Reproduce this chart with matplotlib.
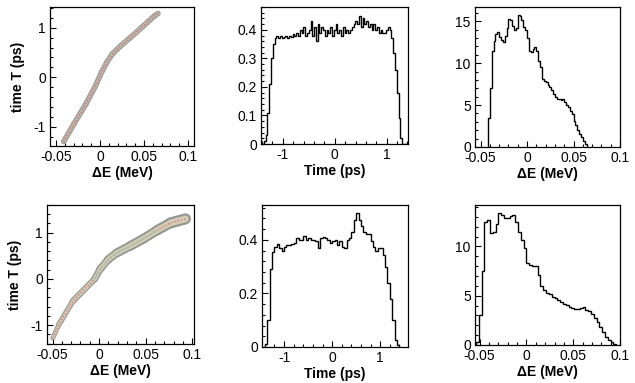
import numpy as np
import matplotlib
matplotlib.use("Agg")
import matplotlib.pyplot as plt
from matplotlib.ticker import MultipleLocator, FuncFormatter, AutoMinorLocator
from matplotlib.collections import LineCollection

plt.rcParams['font.family'] = ['Liberation Sans', 'DejaVu Sans']
plt.rcParams['axes.unicode_minus'] = False

# ---------------- data ----------------
# top row, phase-space band centre line (dE in MeV, T in ps)
top_band_de = [-0.0414, -0.0293, -0.0158, -0.0056, 0.0019, 0.0080, 0.0140, 0.0226, 0.0357, 0.0489, 0.062, 0.066]
top_band_t = [-1.30, -0.93, -0.53, -0.19, 0.11, 0.31, 0.47, 0.62, 0.82, 1.03, 1.24, 1.29]

# bottom row, phase-space band centre line
bot_band_de = [-0.0498, -0.0433, -0.0282, -0.0047, 0.0007, 0.0097, 0.0188, 0.0332, 0.0477, 0.0621, 0.0765, 0.0928]
bot_band_t = [-1.28, -0.99, -0.48, 0.0, 0.20, 0.42, 0.56, 0.71, 0.87, 1.05, 1.21, 1.30]

# top row, time histogram
top_time_lo, top_time_hi = -1.4, 1.4
top_time_vals = [
    0.0, 0.01, 0.03, 0.11, 0.21, 0.30, 0.35, 0.37, 0.38,
    0.37, 0.38, 0.37, 0.375, 0.38, 0.37, 0.38, 0.375, 0.385, 0.38, 0.39, 0.38,
    0.40, 0.39, 0.41, 0.38, 0.39, 0.40, 0.43, 0.38, 0.41, 0.36,
    0.42, 0.39, 0.41, 0.40, 0.38, 0.40, 0.39, 0.41, 0.38, 0.40,
    0.42, 0.39, 0.40, 0.38, 0.41, 0.39, 0.40, 0.39, 0.40, 0.41,
    0.42, 0.43, 0.42, 0.45, 0.41, 0.44, 0.42, 0.43, 0.41, 0.42,
    0.40, 0.42, 0.40, 0.41, 0.39, 0.40, 0.39, 0.39, 0.40, 0.41,
    0.40, 0.37, 0.32, 0.26, 0.18, 0.09, 0.02, 0.0, 0.0, 0.0,
]

# top row, energy histogram
top_de_lo, top_de_hi = -0.042, 0.064
top_de_vals = [
    3.4, 7.0, 11.5, 12.7, 13.5, 13.7, 13.1, 12.8, 12.5, 13.2,
    14.2, 15.3, 15.1, 14.4, 13.9, 14.2, 15.7, 15.6, 15.2, 14.3,
    14.0, 13.0, 11.4, 11.3, 11.7, 11.9, 11.5, 10.3, 9.6, 8.1,
    7.9, 7.7, 7.4, 7.2, 6.8, 6.3, 5.95, 5.75, 5.75, 5.6,
    5.7, 5.4, 5.0, 4.75, 4.3, 3.9, 3.1, 2.6, 2.0, 1.6,
    1.2, 0.7, 0.3,
]

# bottom row, time histogram
bot_time_lo, bot_time_hi = -1.4, 1.4
bot_time_vals = [
    0.01, 0.10, 0.29, 0.355, 0.375, 0.385, 0.37, 0.36, 0.375, 0.38,
    0.38, 0.385, 0.39, 0.405, 0.40, 0.40, 0.415, 0.40, 0.405, 0.40,
    0.40, 0.395, 0.37, 0.405, 0.41, 0.405, 0.40, 0.39, 0.395, 0.40,
    0.38, 0.395, 0.375, 0.37, 0.40, 0.405, 0.43, 0.475, 0.50, 0.475,
    0.45, 0.43, 0.42, 0.42, 0.395, 0.375, 0.36, 0.37, 0.37, 0.345,
    0.30, 0.24, 0.18, 0.10, 0.025, 0.006,
]

# bottom row, energy histogram
bot_de_lo, bot_de_hi = -0.054, 0.096
bot_de_vals = [
    0.3, 3.0, 7.5, 12.5, 12.7, 11.4, 11.5, 12.3, 13.4, 13.2,
    12.9, 12.9, 13.1, 13.2, 12.5, 11.5, 10.7, 9.8, 8.3, 8.1,
    7.97, 8.0, 7.1, 6.0, 5.6, 5.3, 5.2, 4.9, 4.75, 4.6,
    4.4, 4.2, 4.05, 3.9, 3.75, 3.7, 3.7, 3.75, 3.9, 3.55,
    3.4, 3.1, 2.75, 2.3, 1.8, 1.3, 0.8, 0.5, 0.3, 0.1,
]

# ---------------- figure ----------------
W, H = 635, 383
fig = plt.figure(figsize=(W / 100, H / 100), dpi=100)


def add_ax(left, right, top, bottom):
    return fig.add_axes([left / W, 1 - bottom / H, (right - left) / W, (bottom - top) / H])


def fmt(v, pos):
    return '%g' % round(v, 6)


def style(ax, xmaj, ymaj, nminx=5, nminy=5):
    ax.xaxis.set_major_locator(MultipleLocator(xmaj))
    ax.yaxis.set_major_locator(MultipleLocator(ymaj))
    ax.xaxis.set_minor_locator(AutoMinorLocator(nminx))
    ax.yaxis.set_minor_locator(AutoMinorLocator(nminy))
    ax.xaxis.set_major_formatter(FuncFormatter(fmt))
    ax.yaxis.set_major_formatter(FuncFormatter(fmt))
    ax.tick_params(which='both', direction='in', top=False, right=False, labelsize=10, width=0.8)
    ax.tick_params(which='major', length=4, pad=3)
    ax.tick_params(which='minor', length=2)
    for s in ax.spines.values():
        s.set_linewidth(0.9)


def band(ax, xs, ys, widths, outer, inner, core):
    pts = np.column_stack([xs, ys])
    segs = [pts[i:i + 2] for i in range(len(pts) - 1)]
    w = np.array(widths)
    ax.add_collection(LineCollection(segs, linewidths=w, colors=outer, capstyle='round', joinstyle='round'))
    ax.add_collection(LineCollection(segs, linewidths=w * 0.6, colors=inner, capstyle='round', joinstyle='round'))
    ax.plot(xs, ys, color=core, lw=0.8, dashes=(1.2, 1.8))


lab_kw = dict(fontsize=10, fontweight='bold')

# panel 1
ax1 = add_ax(50, 194, 7, 146)
band(ax1, top_band_de, top_band_t, [4.0] * 11, '#9a9a90', '#bcb9a8', '#e2507a')
ax1.set_xlim(-0.057, 0.107)
ax1.set_ylim(-1.39, 1.42)
style(ax1, 0.05, 1)
ax1.set_xlabel('ΔE (MeV)', labelpad=1, **lab_kw)
ax1.set_ylabel('time T (ps)', labelpad=6, **lab_kw)

# panel 2
ax2 = add_ax(261, 408, 7, 144)
e = np.linspace(top_time_lo, top_time_hi, len(top_time_vals) + 1)
ax2.stairs(top_time_vals, e, color='black', lw=1.0)
ax2.set_xlim(-1.42, 1.41)
ax2.set_ylim(0, 0.48)
style(ax2, 1, 0.1)
ax2.set_xlabel('Time (ps)', labelpad=1, **lab_kw)

# panel 3
ax3 = add_ax(475, 620, 7, 147)
e = np.linspace(top_de_lo, top_de_hi, len(top_de_vals) + 1)
ax3.stairs(top_de_vals, e, color='black', lw=1.0)
ax3.set_xlim(-0.056, 0.1)
ax3.set_ylim(0, 16.7)
style(ax3, 0.05, 5)
ax3.set_xlabel('ΔE (MeV)', labelpad=1, **lab_kw)

# panel 4
ax4 = add_ax(47, 194, 205, 344)
band(ax4, bot_band_de, bot_band_t, [3.5, 4, 4.5, 5, 5.5, 6, 6.5, 7, 7, 7.5, 8], '#939790', '#d3ccb4', '#d85a6a')
ax4.plot(bot_band_de[3:10], bot_band_t[3:10], color='#a4c4b0', lw=1.0, alpha=0.8)
ax4.set_xlim(-0.056, 0.102)
ax4.set_ylim(-1.41, 1.6)
style(ax4, 0.05, 1)
ax4.set_xlabel('ΔE (MeV)', labelpad=1, **lab_kw)
ax4.set_ylabel('time T (ps)', labelpad=6, **lab_kw)

# panel 5
ax5 = add_ax(262, 408, 205, 347)
e = np.linspace(bot_time_lo, bot_time_hi, len(bot_time_vals) + 1)
ax5.stairs(bot_time_vals, e, color='black', lw=1.0)
ax5.set_xlim(-1.46, 1.58)
ax5.set_ylim(0, 0.53)
style(ax5, 1, 0.2)
ax5.set_xlabel('Time (ps)', labelpad=1, **lab_kw)

# panel 6
ax6 = add_ax(475, 620, 205, 345)
e = np.linspace(bot_de_lo, bot_de_hi, len(bot_de_vals) + 1)
ax6.stairs(bot_de_vals, e, color='black', lw=1.0)
ax6.set_xlim(-0.055, 0.1)
ax6.set_ylim(0, 14.2)
style(ax6, 0.05, 5)
ax6.set_xlabel('ΔE (MeV)', labelpad=1, **lab_kw)

fig.savefig('out.png', dpi=100)
